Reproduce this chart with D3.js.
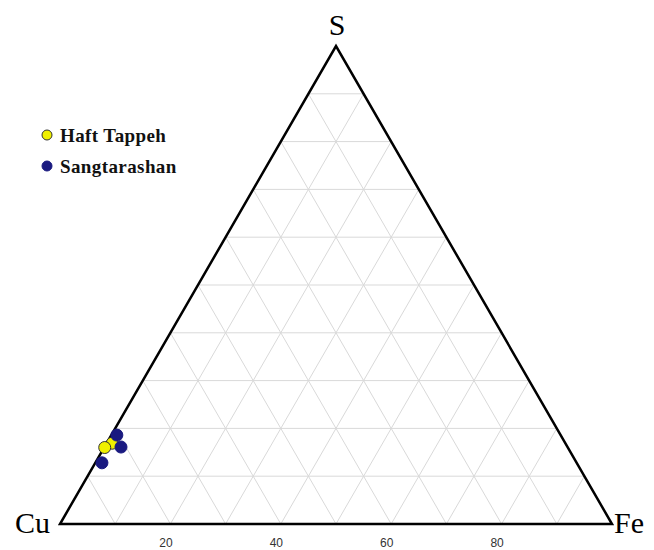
<!DOCTYPE html>
<html>
<head>
<meta charset="utf-8">
<script src="https://cdn.jsdelivr.net/npm/d3@7"></script>
<style>
  body { margin: 0; background: #fff; }
  svg { display: block; }
</style>
</head>
<body>
<div id="chart"></div>
<script>
// corner labels and ticks
var corners = ["Cu", "Fe", "S"];
var tickValues = [20, 40, 60, 80];
var gridSteps = [10, 20, 30, 40, 50, 60, 70, 80, 90];

// samples as % Cu, Fe, S
var haftCu = [82.1, 83.9];
var haftFe = [1.0, 0.1];
var haftS = [16.9, 16.0];

var sangCu = [80.4, 80.9, 86.0];
var sangFe = [1.0, 3.0, 1.2];
var sangS = [18.6, 16.1, 12.8];

var seriesNames = ["Haft Tappeh", "Sangtarashan"];
var seriesColors = ["#f0f000", "#1a1a80"];

var svgWidth = 654;
var svgHeight = 550;

var svg = d3.select("#chart").append("svg")
  .attr("width", svgWidth)
  .attr("height", svgHeight);

// x runs along the Cu-Fe base, y is height in S
var xScale = d3.scaleLinear().domain([0, 100]).range([60, 612]);
var yScale = d3.scaleLinear().domain([0, 100]).range([524, 46]);

function proj(cu, fe, s) {
  var t = cu + fe + s;
  fe = fe / t * 100;
  s = s / t * 100;
  return [xScale(fe + s / 2), yScale(s)];
}

// grid
var grid = svg.append("g").attr("stroke", "#d9d9d9").attr("stroke-width", 1).attr("fill", "none");
gridSteps.forEach(function (v) {
  // constant S
  var a = proj(100 - v, 0, v), b = proj(0, 100 - v, v);
  grid.append("line").attr("x1", a[0]).attr("y1", a[1]).attr("x2", b[0]).attr("y2", b[1]);
  // constant Fe
  a = proj(100 - v, v, 0); b = proj(0, v, 100 - v);
  grid.append("line").attr("x1", a[0]).attr("y1", a[1]).attr("x2", b[0]).attr("y2", b[1]);
  // constant Cu
  a = proj(v, 100 - v, 0); b = proj(v, 0, 100 - v);
  grid.append("line").attr("x1", a[0]).attr("y1", a[1]).attr("x2", b[0]).attr("y2", b[1]);
});

// outline
var pCu = proj(100, 0, 0), pFe = proj(0, 100, 0), pS = proj(0, 0, 100);
svg.append("path")
  .attr("d", d3.line()([pCu, pFe, pS]) + "Z")
  .attr("fill", "none")
  .attr("stroke", "#000")
  .attr("stroke-width", 2.5)
  .attr("stroke-linejoin", "miter");

// bottom axis labels (sit a little left of the true tick)
var axis = d3.axisBottom(xScale).tickValues(tickValues).tickSize(0).tickPadding(14);
var axisG = svg.append("g").attr("transform", "translate(-5," + yScale(0) + ")").call(axis);
axisG.select(".domain").remove();
axisG.selectAll("text")
  .attr("font-family", "Liberation Sans, Arial, sans-serif")
  .attr("font-size", 12)
  .attr("fill", "#333");

// corner labels
var cornerFont = "Liberation Serif, Times New Roman, serif";
svg.append("text").text(corners[0])
  .attr("x", pCu[0] - 10).attr("y", pCu[1] + 9)
  .attr("text-anchor", "end")
  .attr("font-family", cornerFont).attr("font-size", 30);
svg.append("text").text(corners[1])
  .attr("x", pFe[0] + 2).attr("y", pFe[1] + 9)
  .attr("font-family", cornerFont).attr("font-size", 30);
svg.append("text").text(corners[2])
  .attr("x", pS[0] + 1).attr("y", pS[1] - 11)
  .attr("text-anchor", "middle")
  .attr("font-family", cornerFont).attr("font-size", 30);

// points
var haft = haftCu.map(function (c, i) { return proj(c, haftFe[i], haftS[i]); });
var sang = sangCu.map(function (c, i) { return proj(c, sangFe[i], sangS[i]); });

[haft, sang].forEach(function (pts, k) {
  svg.append("g").selectAll("circle")
    .data(pts)
    .enter().append("circle")
    .attr("cx", function (d) { return d[0]; })
    .attr("cy", function (d) { return d[1]; })
    .attr("r", 6)
    .attr("fill", seriesColors[k])
    .attr("stroke", k === 0 ? "#333" : "#1a1a80")
    .attr("stroke-width", 1);
});

// legend
var legend = svg.append("g").attr("transform", "translate(47,135)");
seriesNames.forEach(function (name, i) {
  var row = legend.append("g").attr("transform", "translate(0," + (i * 31) + ")");
  row.append("circle").attr("r", 5)
    .attr("fill", seriesColors[i])
    .attr("stroke", i === 0 ? "#333" : "#1a1a80");
  row.append("text").text(name)
    .attr("x", 13).attr("y", 7)
    .attr("font-family", cornerFont)
    .attr("font-weight", "bold")
    .attr("font-size", 19)
    .attr("letter-spacing", 0.4)
    .attr("fill", "#111");
});
</script>
</body>
</html>
